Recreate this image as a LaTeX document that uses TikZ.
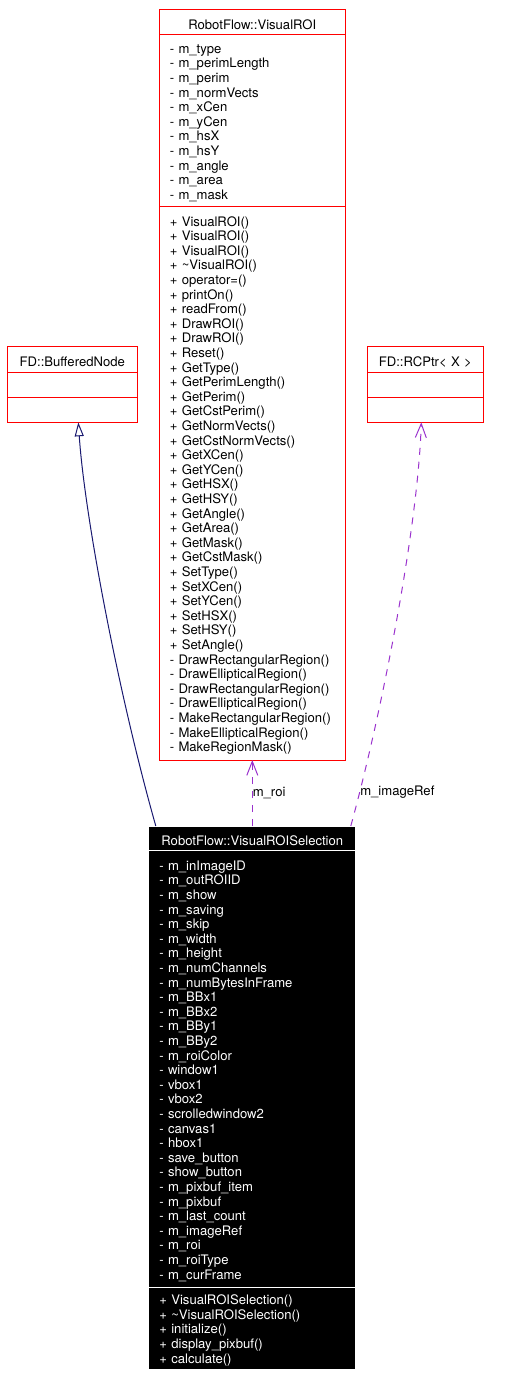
\documentclass[tikz,border=0pt]{standalone}
\usepackage{fontspec}
\setmainfont{TeX Gyre Heros}
\usetikzlibrary{arrows.meta, positioning}

\definecolor{boxred}{RGB}{255,0,0}
\definecolor{inhblue}{RGB}{25,25,112}
\definecolor{usepurple}{RGB}{154,50,205}

\tikzset{
	cls/.style={draw=boxred, line width=1pt, outer sep=0pt, inner ysep=0pt, inner xsep=10.5pt, text width=#1, align=left, font=\fontsize{13.1}{14.6}\selectfont, execute at begin node={\rule{0pt}{14.5pt}}},
	clstitle/.style={cls=#1, align=center},
	sel/.style={draw=white, fill=black, text=white},
	inherit/.style={draw=inhblue, line width=1pt, -{Triangle[open, length=14pt, width=9pt]}},
	uses/.style={draw=usepurple, line width=1pt, dash pattern=on 7pt off 7pt, -{Straight Barb[length=14pt, width=11pt]}},
	lbl/.style={inner sep=0pt, font=\fontsize{13.1}{14.6}\selectfont}
}

\begin{document}
\begin{tikzpicture}[x=1pt, y=-1pt]
			\useasboundingbox (0,0) rectangle (508,1378);
			
			\node[clstitle=165pt, minimum height=24.6pt, anchor=north west] (roiTitle) at (159.3,9.7) {RobotFlow::VisualROI};
			\node[cls=165pt, minimum height=172pt] (roiAttr) [below = 0pt of roiTitle] {- m\_type\\- m\_perimLength\\- m\_perim\\- m\_normVects\\- m\_xCen\\- m\_yCen\\- m\_hsX\\- m\_hsY\\- m\_angle\\- m\_area\\- m\_mask};
			\node[cls=165pt, minimum height=553.7pt] (roiOps) [below = 0pt of roiAttr] {+ VisualROI()\\+ VisualROI()\\+ VisualROI()\\+ \textasciitilde VisualROI()\\+ operator=()\\+ printOn()\\+ readFrom()\\+ DrawROI()\\+ DrawROI()\\+ Reset()\\+ GetType()\\+ GetPerimLength()\\+ GetPerim()\\+ GetCstPerim()\\+ GetNormVects()\\+ GetCstNormVects()\\+ GetXCen()\\+ GetYCen()\\+ GetHSX()\\+ GetHSY()\\+ GetAngle()\\+ GetArea()\\+ GetMask()\\+ GetCstMask()\\+ SetType()\\+ SetXCen()\\+ SetYCen()\\+ SetHSX()\\+ SetHSY()\\+ SetAngle()\\- DrawRectangularRegion()\\- DrawEllipticalRegion()\\- DrawRectangularRegion()\\- DrawEllipticalRegion()\\- MakeRectangularRegion()\\- MakeEllipticalRegion()\\- MakeRegionMask()};
			
			\node[clstitle=109pt, minimum height=25.6pt, anchor=north west] (bnTitle) at (7.3,346.7) {FD::BufferedNode};
			\node[cls=109pt, minimum height=25pt] (bnAttr) [below = 0pt of bnTitle] {};
			\node[cls=109pt, minimum height=25pt] (bnOps) [below = 0pt of bnAttr] {};
			
			\node[clstitle=95pt, minimum height=25.6pt, anchor=north west] (rcpTitle) at (367.3,346.7) {FD::RCPtr\textless{} X \textgreater};
			\node[cls=95pt, minimum height=25pt] (rcpAttr) [below = 0pt of rcpTitle] {};
			\node[cls=95pt, minimum height=25pt] (rcpOps) [below = 0pt of rcpAttr] {};
			
			\node[clstitle=186pt, sel, inner xsep=10.5pt, minimum height=24pt] (selTitle) [below = 66pt of roiOps] {RobotFlow::VisualROISelection};
			\node[cls=186pt, sel, minimum height=437pt] (selAttr) [below = 0pt of selTitle] {- m\_inImageID\\- m\_outROIID\\- m\_show\\- m\_saving\\- m\_skip\\- m\_width\\- m\_height\\- m\_numChannels\\- m\_numBytesInFrame\\- m\_BBx1\\- m\_BBx2\\- m\_BBy1\\- m\_BBy2\\- m\_roiColor\\- window1\\- vbox1\\- vbox2\\- scrolledwindow2\\- canvas1\\- hbox1\\- save\_button\\- show\_button\\- m\_pixbuf\_item\\- m\_pixbuf\\- m\_last\_count\\- m\_imageRef\\- m\_roi\\- m\_roiType\\- m\_curFrame};
			\node[cls=186pt, sel, minimum height=82pt] (selOps) [below = 0pt of selAttr] {+ VisualROISelection()\\+ \textasciitilde VisualROISelection()\\+ initialize()\\+ display\_pixbuf()\\+ calculate()};
			
			\draw[inherit] ([xshift=7pt]selTitle.north west) .. controls (120,700) and (85,520) .. ([xshift=6pt]bnOps.south);
			\draw[uses] (selTitle.north) -- (roiOps.south) node[lbl, midway, anchor=west] {m\_roi};
			\draw[uses] ([xshift=-5pt]selTitle.north east) .. controls (380,720) and (418,530) .. ([xshift=-4pt]rcpOps.south) node[lbl, pos=0.1, anchor=west] {m\_imageRef};
\end{tikzpicture}
\end{document}
